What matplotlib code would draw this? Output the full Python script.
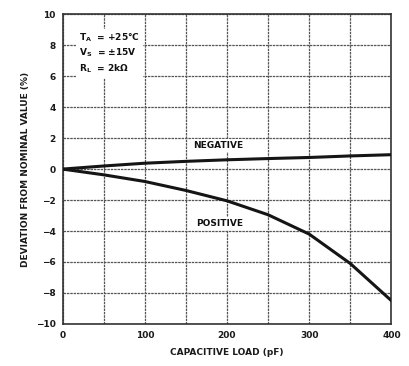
import numpy as np
import matplotlib.pyplot as plt

# capacitive load (pF) and deviation from nominal value (%)
load_pf = [0, 50, 100, 150, 200, 250, 300, 350, 400]
dev_negative = [0.0, 0.2, 0.38, 0.5, 0.6, 0.68, 0.75, 0.85, 0.93]
dev_positive = [0.0, -0.37, -0.8, -1.38, -2.05, -2.95, -4.2, -6.1, -8.5]

x_ticks = [0, 100, 200, 300, 400]
y_ticks = [10, 8, 6, 4, 2, 0, -2, -4, -6, -8, -10]
y_ticklabels = ['10', '8', '6', '4', '2', '0', '−2', '−4', '−6', '−8', '−10']

fig = plt.figure(figsize=(4.09, 3.66), dpi=100)
ax = fig.add_axes([0.153, 0.115, 0.804, 0.846])

ax.set_xlim(0, 400)
ax.set_ylim(-10, 10)

# major grid every 100 pF / 2 %, extra vertical lines at the 50 pF marks
ax.set_xticks(x_ticks)
ax.set_xticks(np.arange(50, 400, 100), minor=True)
ax.set_yticks(y_ticks)
grid_style = dict(color='#555555', linewidth=0.9, linestyle=(0, (2, 0.7)), zorder=1)
ax.grid(True, which='major', **grid_style)
ax.grid(True, which='minor', axis='x', **grid_style)

ax.set_xticklabels([str(v) for v in x_ticks], fontsize=6.5, color='#1a1a1a',
                   fontweight='semibold')
ax.set_yticklabels(y_ticklabels, fontsize=6.5, color='#1a1a1a',
                   fontweight='semibold')
ax.tick_params(which='both', length=0, pad=5)

for s in ax.spines.values():
    s.set_color('#333333')
    s.set_linewidth(1.2)

ax.plot(load_pf, dev_negative, color='#151515', linewidth=2.2, zorder=3)
ax.plot(load_pf, dev_positive, color='#151515', linewidth=2.2, zorder=3)

box = dict(facecolor='white', edgecolor='none', pad=1.5)
ax.text(189, 1.5, 'NEGATIVE', fontsize=6.5, ha='center', va='center',
        color='#111111', fontweight='semibold', bbox=box, zorder=4)
ax.text(191, -3.5, 'POSITIVE', fontsize=6.5, ha='center', va='center',
        color='#111111', fontweight='semibold', bbox=box, zorder=4)

cond = ('$\\mathregular{T_A}$  = +25°C\n'
        '$\\mathregular{V_S}$  = ±15V\n'
        '$\\mathregular{R_L}$  = 2kΩ')
ax.text(20, 8.9, cond, fontsize=6.5, ha='left', va='top', linespacing=1.35,
        color='#111111', fontweight='semibold',
        bbox=dict(facecolor='white', edgecolor='none', pad=2), zorder=4)

ax.set_xlabel('CAPACITIVE LOAD (pF)', fontsize=6.5, color='#1a1a1a',
              fontweight='semibold', labelpad=6)
ax.set_ylabel('DEVIATION FROM NOMINAL VALUE (%)', fontsize=6.5, color='#1a1a1a',
              fontweight='semibold', labelpad=4)

fig.savefig('out.png', dpi=100)
